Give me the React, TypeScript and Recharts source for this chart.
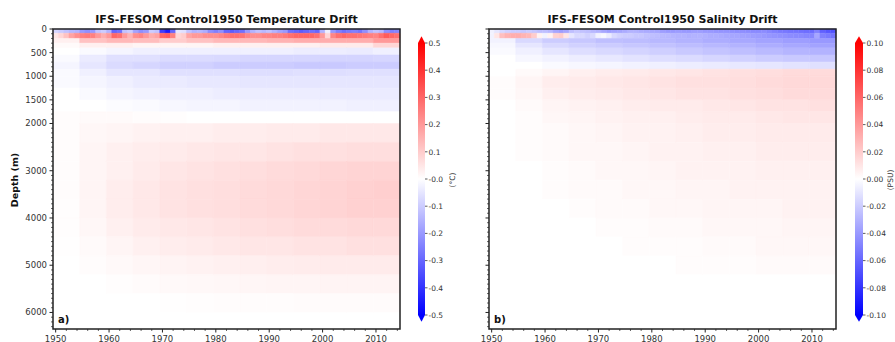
import { ComposedChart, XAxis, YAxis, ReferenceArea, Scatter } from 'recharts';

const FONT = '"DejaVu Sans", sans-serif';

// ---- axes ----
const yearTicks = [
  1950, 1952, 1954, 1956, 1958, 1960, 1962, 1964, 1966, 1968, 1970, 1972, 1974, 1976, 1978,
  1980, 1982, 1984, 1986, 1988, 1990, 1992, 1994, 1996, 1998, 2000, 2002, 2004, 2006, 2008,
  2010, 2012, 2014,
];
const yearLabels = [1950, 1960, 1970, 1980, 1990, 2000, 2010];
const depthLabels = [0, 500, 1000, 1500, 2000, 3000, 4000, 5000, 6000];
const depthTicks = Array.from({ length: 64 }, (_, i) => i * 100);

// layer boundaries (m), one row of values per layer
const depthEdges = [
  0, 90, 200, 300, 400, 550, 700, 850, 1000, 1250, 1500, 1750, 2000, 2400, 2800, 3200, 3600,
  4000, 4400, 4800, 5200, 5600, 6000, 6350,
];

// ---- temperature drift (°C) ----
// yearly, 1950..2014
const tempSurface = [
  -0.08, -0.1, -0.12, -0.14, -0.15, -0.2, -0.22, -0.2, -0.12, -0.1,
  -0.15, -0.3, -0.28, -0.12, -0.1, -0.18, -0.22, -0.2, -0.1, -0.12,
  -0.38, -0.45, -0.3, -0.05, -0.06, -0.12, -0.15, -0.14, -0.16, -0.22,
  -0.25, -0.22, -0.3, -0.32, -0.3, -0.28, -0.2, -0.15, -0.12, -0.14,
  -0.12, -0.15, -0.18, -0.2, -0.28, -0.3, -0.32, -0.3, -0.28, -0.3,
  -0.15, -0.03, -0.2, -0.25, -0.28, -0.26, -0.25, -0.27, -0.22, -0.15,
  -0.12, -0.14, -0.22, -0.25, -0.24,
];
const tempThermocline = [
  0.05, 0.08, 0.12, 0.18, 0.22, 0.25, 0.26, 0.25, 0.2, 0.16,
  0.2, 0.3, 0.28, 0.2, 0.15, 0.22, 0.24, 0.2, 0.16, 0.18,
  0.3, 0.32, 0.25, 0.08, 0.1, 0.18, 0.2, 0.2, 0.22, 0.22,
  0.22, 0.24, 0.26, 0.28, 0.28, 0.27, 0.24, 0.22, 0.22, 0.24,
  0.24, 0.25, 0.25, 0.26, 0.28, 0.3, 0.3, 0.3, 0.3, 0.28,
  0.2, 0.08, 0.24, 0.28, 0.3, 0.28, 0.28, 0.27, 0.26, 0.25,
  0.24, 0.28, 0.32, 0.3, 0.28,
];
// 5-year bins, 1950-54 .. 2010-14, layers 200 m .. 6350 m
const tempDeep = [
  [0.03, 0.12, 0.14, 0.13, 0.1, 0.12, 0.14, 0.14, 0.15, 0.16, 0.16, 0.16, 0.2],
  [0.01, 0.03, 0.03, 0.02, 0.02, 0.02, 0.03, 0.03, 0.03, 0.03, 0.04, 0.04, 0.08],
  [0, -0.01, -0.02, -0.03, -0.03, -0.03, -0.03, -0.03, -0.03, -0.035, -0.035, -0.04, -0.03],
  [-0.01, -0.04, -0.06, -0.06, -0.07, -0.07, -0.075, -0.08, -0.08, -0.08, -0.085, -0.085, -0.08],
  [-0.02, -0.05, -0.07, -0.08, -0.09, -0.09, -0.1, -0.1, -0.1, -0.105, -0.105, -0.1, -0.1],
  [-0.01, -0.03, -0.05, -0.05, -0.06, -0.06, -0.06, -0.065, -0.065, -0.06, -0.065, -0.06, -0.06],
  [-0.01, -0.02, -0.03, -0.04, -0.04, -0.045, -0.045, -0.05, -0.05, -0.05, -0.05, -0.05, -0.05],
  [0, -0.01, -0.02, -0.025, -0.03, -0.03, -0.035, -0.035, -0.035, -0.035, -0.04, -0.04, -0.04],
  [0, 0, -0.005, -0.01, -0.015, -0.02, -0.02, -0.025, -0.025, -0.025, -0.025, -0.03, -0.03],
  [0.005, 0.01, 0.01, 0.005, 0.003, 0, 0, 0, 0, 0, 0, 0, 0],
  [0.005, 0.015, 0.02, 0.025, 0.03, 0.03, 0.035, 0.035, 0.04, 0.04, 0.045, 0.045, 0.045],
  [0.005, 0.02, 0.03, 0.035, 0.04, 0.045, 0.05, 0.05, 0.055, 0.06, 0.06, 0.065, 0.065],
  [0.005, 0.02, 0.03, 0.04, 0.05, 0.055, 0.06, 0.065, 0.07, 0.075, 0.08, 0.085, 0.085],
  [0.005, 0.02, 0.035, 0.045, 0.055, 0.06, 0.065, 0.07, 0.075, 0.08, 0.085, 0.09, 0.095],
  [0.004, 0.02, 0.035, 0.045, 0.055, 0.06, 0.065, 0.07, 0.075, 0.08, 0.085, 0.09, 0.09],
  [0.003, 0.015, 0.03, 0.04, 0.045, 0.05, 0.055, 0.06, 0.065, 0.07, 0.07, 0.075, 0.075],
  [0.002, 0.01, 0.02, 0.03, 0.035, 0.04, 0.045, 0.05, 0.05, 0.055, 0.055, 0.06, 0.06],
  [0, 0.005, 0.012, 0.018, 0.022, 0.026, 0.03, 0.032, 0.035, 0.038, 0.04, 0.04, 0.04],
  [0, 0, 0.004, 0.008, 0.012, 0.014, 0.016, 0.018, 0.02, 0.02, 0.022, 0.022, 0.022],
  [0, 0, 0, 0, 0.002, 0.004, 0.005, 0.006, 0.006, 0.008, 0.008, 0.008, 0.008],
  [0, 0, 0, 0, 0, 0, 0, 0, 0, 0, 0, 0, 0],
];

// ---- salinity drift (PSU) ----
const salSurface = [
  -0.005, -0.01, -0.015, -0.018, -0.02, -0.02, -0.022, -0.02, -0.022, -0.025,
  -0.025, -0.028, -0.035, -0.038, -0.035, -0.025, -0.022, -0.024, -0.025, -0.028,
  -0.03, -0.035, -0.038, -0.036, -0.035, -0.033, -0.03, -0.03, -0.032, -0.033,
  -0.034, -0.035, -0.038, -0.04, -0.04, -0.039, -0.04, -0.04, -0.038, -0.038,
  -0.04, -0.04, -0.041, -0.042, -0.042, -0.043, -0.044, -0.044, -0.045, -0.046,
  -0.046, -0.045, -0.047, -0.05, -0.052, -0.053, -0.054, -0.055, -0.056, -0.057,
  -0.058, -0.05, -0.062, -0.066, -0.068,
];
const salThermocline = [
  -0.005, 0.01, 0.025, 0.03, 0.032, 0.032, 0.03, 0.028, 0.02, 0.005,
  -0.005, 0.005, 0.018, 0.02, 0.01, -0.01, -0.015, -0.015, -0.018, -0.015,
  -0.005, -0.003, -0.008, -0.015, -0.018, -0.02, -0.02, -0.022, -0.022, -0.024,
  -0.025, -0.026, -0.027, -0.028, -0.029, -0.03, -0.03, -0.031, -0.03, -0.03,
  -0.031, -0.032, -0.032, -0.033, -0.034, -0.035, -0.035, -0.036, -0.037, -0.038,
  -0.039, -0.04, -0.041, -0.042, -0.043, -0.044, -0.045, -0.046, -0.046, -0.047,
  -0.048, -0.035, -0.05, -0.052, -0.054,
];
const salDeep = [
  [-0.005, -0.015, -0.02, -0.022, -0.025, -0.026, -0.028, -0.03, -0.032, -0.034, -0.036, -0.038, -0.04],
  [-0.003, -0.01, -0.015, -0.018, -0.02, -0.022, -0.024, -0.026, -0.028, -0.03, -0.032, -0.034, -0.036],
  [-0.002, -0.006, -0.01, -0.013, -0.015, -0.017, -0.019, -0.021, -0.023, -0.025, -0.027, -0.029, -0.03],
  [0, -0.003, -0.005, -0.007, -0.009, -0.011, -0.013, -0.014, -0.016, -0.018, -0.02, -0.021, -0.022],
  [0, 0, -0.002, -0.003, -0.004, -0.005, -0.006, -0.007, -0.008, -0.009, -0.01, -0.011, -0.012],
  [0, 0.002, 0.004, 0.006, 0.007, 0.008, 0.009, 0.01, 0.011, 0.012, 0.013, 0.014, 0.014],
  [0.001, 0.004, 0.007, 0.008, 0.009, 0.01, 0.011, 0.012, 0.012, 0.013, 0.014, 0.015, 0.015],
  [0.001, 0.003, 0.006, 0.007, 0.008, 0.009, 0.01, 0.011, 0.011, 0.012, 0.013, 0.014, 0.014],
  [0, 0.002, 0.004, 0.005, 0.006, 0.007, 0.008, 0.008, 0.009, 0.01, 0.011, 0.011, 0.012],
  [0, 0.001, 0.003, 0.004, 0.005, 0.006, 0.006, 0.007, 0.008, 0.008, 0.009, 0.01, 0.01],
  [0, 0.001, 0.002, 0.003, 0.004, 0.005, 0.005, 0.006, 0.007, 0.007, 0.008, 0.008, 0.008],
  [0, 0.001, 0.002, 0.003, 0.003, 0.004, 0.005, 0.005, 0.006, 0.006, 0.007, 0.007, 0.007],
  [0, 0, 0.001, 0.002, 0.003, 0.003, 0.004, 0.005, 0.005, 0.005, 0.006, 0.006, 0.006],
  [0, 0, 0.001, 0.002, 0.002, 0.003, 0.003, 0.004, 0.004, 0.005, 0.005, 0.005, 0.005],
  [0, 0, 0, 0.001, 0.002, 0.002, 0.003, 0.003, 0.004, 0.004, 0.004, 0.005, 0.005],
  [0, 0, 0, 0, 0.001, 0.001, 0.002, 0.002, 0.003, 0.003, 0.003, 0.004, 0.004],
  [0, 0, 0, 0, 0, 0.001, 0.001, 0.001, 0.002, 0.002, 0.003, 0.003, 0.003],
  [0, 0, 0, 0, 0, 0, 0, 0.001, 0.001, 0.001, 0.002, 0.002, 0.002],
  [0, 0, 0, 0, 0, 0, 0, 0, 0, 0, 0, 0, 0],
  [0, 0, 0, 0, 0, 0, 0, 0, 0, 0, 0, 0, 0],
  [0, 0, 0, 0, 0, 0, 0, 0, 0, 0, 0, 0, 0],
];

const tempBarTicks = [0.5, 0.4, 0.3, 0.2, 0.1, 0, -0.1, -0.2, -0.3, -0.4, -0.5];
const salBarTicks = [0.1, 0.08, 0.06, 0.04, 0.02, 0, -0.02, -0.04, -0.06, -0.08, -0.1];

const X0 = 1949.5;
const X1 = 2014.5;
const YMAX = 6350;

// matplotlib 'bwr'
function bwr(v: number, vmax: number) {
  const t = Math.max(-1, Math.min(1, v / vmax));
  if (t >= 0) {
    const c = Math.round(255 * (1 - t));
    return `rgb(255,${c},${c})`;
  }
  const c = Math.round(255 * (1 + t));
  return `rgb(${c},${c},255)`;
}

type Cell = { x1: number; x2: number; y1: number; y2: number; cx: number; cy: number; fill: string };

function buildCells(rows: number[][], vmax: number) {
  const cells: Cell[] = [];
  rows.forEach((row, r) => {
    const w = (X1 - X0) / row.length;
    row.forEach((v, i) => {
      const x1 = X0 + i * w;
      const x2 = X0 + (i + 1) * w;
      cells.push({
        x1,
        x2,
        y1: depthEdges[r],
        y2: depthEdges[r + 1],
        cx: (x1 + x2) / 2,
        cy: (depthEdges[r] + depthEdges[r + 1]) / 2,
        fill: bwr(v, vmax),
      });
    });
  });
  return cells;
}

const NoShape = () => <g />;

const YearTick = (props: any) => {
  const { x, y, payload } = props;
  const major = yearLabels.includes(payload.value);
  return (
    <g>
      <line x1={x} y1={y} x2={x} y2={y + (major ? 3.5 : 2)} stroke="#222" strokeWidth={major ? 1 : 0.7} />
      {major && (
        <text x={x} y={y + 12.5} textAnchor="middle" fontSize={8.5} fill="#333" fontFamily={FONT}>
          {payload.value}
        </text>
      )}
    </g>
  );
};

const depthTick = (showLabel: boolean) => (props: any) => {
  const { x, y, payload } = props;
  const major = depthLabels.includes(payload.value);
  return (
    <g>
      <line x1={x - (major ? 3.5 : 2)} y1={y} x2={x} y2={y} stroke="#222" strokeWidth={major ? 1 : 0.7} />
      {major && showLabel && (
        <text x={x - 6} y={y + 3} textAnchor="end" fontSize={8.5} fill="#333" fontFamily={FONT}>
          {payload.value}
        </text>
      )}
    </g>
  );
};

const barTick = (digits: number) => (props: any) => {
  const { x, y, payload } = props;
  const v = payload.value as number;
  const label = v === 0 && digits === 1 ? '-0.0' : v.toFixed(digits);
  return (
    <g>
      <line x1={x} y1={y} x2={x + 2.5} y2={y} stroke="#333" strokeWidth={0.8} />
      <text x={x + 3.5} y={y + 2.7} textAnchor="start" fontSize={7.5} fill="#333" fontFamily={FONT}>
        {label}
      </text>
    </g>
  );
};

function Panel({ left, title, rows, vmax, showDepth, tag }: any) {
  const cells = buildCells(rows, vmax);
  return (
    <div style={{ position: 'absolute', left, top: 0, width: 440, height: 342 }}>
      <ComposedChart width={440} height={342} data={cells} margin={{ top: 29, right: 40, bottom: 0, left: 0 }}>
        <XAxis
          type="number"
          dataKey="cx"
          domain={[X0, X1]}
          ticks={yearTicks}
          interval={0}
          tick={YearTick}
          tickSize={0}
          tickMargin={0}
          tickLine={false}
          axisLine={false}
          height={13}
        />
        <YAxis
          type="number"
          dataKey="cy"
          domain={[0, YMAX]}
          reversed
          ticks={depthTicks}
          interval={0}
          tick={depthTick(showDepth)}
          tickSize={0}
          tickMargin={0}
          tickLine={false}
          axisLine={false}
          width={53}
        />
        <Scatter dataKey="cy" shape={NoShape} isAnimationActive={false} />
        {cells.map((c, i) => (
          <ReferenceArea
            key={i}
            x1={c.x1}
            x2={c.x2}
            y1={c.y1}
            y2={c.y2}
            fill={c.fill}
            fillOpacity={1}
            stroke={c.fill}
            strokeWidth={0.5}
          />
        ))}
        <ReferenceArea x1={X0} x2={X1} y1={0} y2={YMAX} fill="none" stroke="#222" strokeWidth={1.5} />
      </ComposedChart>
      <div
        style={{
          position: 'absolute', left: 53, width: 347, top: 13, textAlign: 'center',
          fontFamily: FONT, fontWeight: 'bold', fontSize: 11, lineHeight: '14px', color: '#111',
          whiteSpace: 'nowrap',
        }}
      >
        {title}
      </div>
      <div
        style={{
          position: 'absolute', left: 58, top: 314, fontFamily: FONT, fontWeight: 'bold',
          fontSize: 10, lineHeight: '12px', color: '#111',
        }}
      >
        {tag}
      </div>
    </div>
  );
}

const UpArrow = (props: any) => {
  const { x, y, width, height, fill } = props;
  return <polygon points={`${x},${y + height} ${x + width},${y + height} ${x + width / 2},${y}`} fill={fill} />;
};
const DownArrow = (props: any) => {
  const { x, y, width, height, fill } = props;
  return <polygon points={`${x},${y} ${x + width},${y} ${x + width / 2},${y + height}`} fill={fill} />;
};

function ColorBar({ left, barWidth, vmax, ticks, digits, grad }: any) {
  const ends = [
    { bx: 0, by: -vmax },
    { bx: 1, by: vmax },
  ];
  return (
    <div style={{ position: 'absolute', left, top: 0 }}>
      <ComposedChart width={barWidth + 53} height={342} data={ends} margin={{ top: 43, right: 0, bottom: 27, left: 0 }}>
        <XAxis type="number" dataKey="bx" domain={[0, 1]} hide />
        <YAxis
          type="number"
          dataKey="by"
          orientation="right"
          domain={[-vmax, vmax]}
          ticks={ticks}
          interval={0}
          tick={barTick(digits)}
          tickSize={0}
          tickMargin={0}
          tickLine={false}
          axisLine={false}
          width={53}
        />
        <Scatter dataKey="by" shape={NoShape} isAnimationActive={false} />
        <ReferenceArea x1={0} x2={1} y1={-vmax} y2={vmax} fill={`url(#${grad})`} fillOpacity={1} />
        <ReferenceArea x1={0} x2={1} y1={vmax} y2={vmax * 1.05} ifOverflow="visible" fill="#ff0000" fillOpacity={1} shape={UpArrow} />
        <ReferenceArea x1={0} x2={1} y1={-vmax * 1.05} y2={-vmax} ifOverflow="visible" fill="#0000ff" fillOpacity={1} shape={DownArrow} />
      </ComposedChart>
    </div>
  );
}

function BarLabel({ x, text }: { x: number; text: string }) {
  return (
    <div
      style={{
        position: 'absolute', left: x, top: 180, transform: 'translate(-50%, -50%) rotate(-90deg)',
        fontFamily: FONT, fontSize: 7.5, color: '#333', whiteSpace: 'nowrap', lineHeight: '8px',
      }}
    >
      {text}
    </div>
  );
}

export default function App() {
  return (
    <div style={{ position: 'absolute', left: 0, top: 0, width: 895, height: 342, background: '#fff', overflow: 'hidden' }}>
      <svg width={0} height={0} style={{ position: 'absolute' }}>
        <defs>
          {['gradT', 'gradS'].map((id) => (
            <linearGradient key={id} id={id} x1="0" y1="0" x2="0" y2="1">
              <stop offset="0" stopColor="#ff0000" />
              <stop offset="0.5" stopColor="#ffffff" />
              <stop offset="1" stopColor="#0000ff" />
            </linearGradient>
          ))}
        </defs>
      </svg>
      <Panel
        left={0}
        title="IFS-FESOM Control1950 Temperature Drift"
        rows={[tempSurface, tempThermocline, ...tempDeep]}
        vmax={0.5}
        showDepth
        tag="a)"
      />
      <Panel
        left={436}
        title="IFS-FESOM Control1950 Salinity Drift"
        rows={[salSurface, salThermocline, ...salDeep]}
        vmax={0.1}
        showDepth={false}
        tag="b)"
      />
      <ColorBar left={418} barWidth={7} vmax={0.5} ticks={tempBarTicks} digits={1} grad="gradT" />
      <ColorBar left={855} barWidth={8} vmax={0.1} ticks={salBarTicks} digits={2} grad="gradS" />
      <BarLabel x={453} text="(°C)" />
      <BarLabel x={890.5} text="(PSU)" />
      <div
        style={{
          position: 'absolute', left: 14, top: 180, transform: 'translate(-50%, -50%) rotate(-90deg)',
          fontFamily: FONT, fontWeight: 'bold', fontSize: 9.5, color: '#111', whiteSpace: 'nowrap',
        }}
      >
        Depth (m)
      </div>
    </div>
  );
}
